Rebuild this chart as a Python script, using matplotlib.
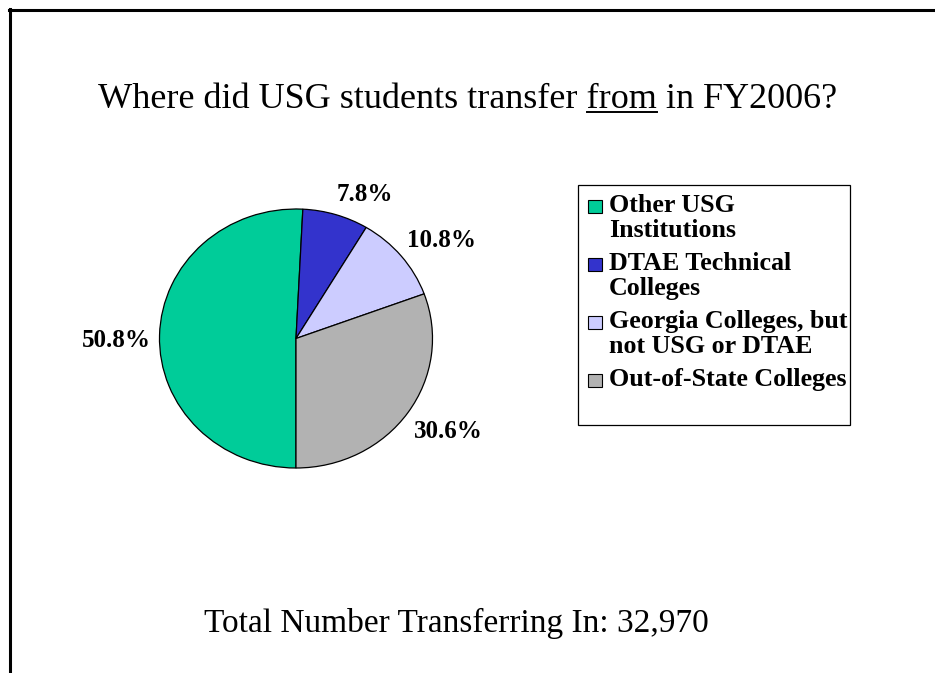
import matplotlib.pyplot as plt
from matplotlib.patches import Rectangle
from matplotlib.lines import Line2D
import numpy as np

# data
labels = ['Other USG\nInstitutions', 'DTAE Technical\nColleges',
          'Georgia Colleges, but\nnot USG or DTAE', 'Out-of-State Colleges']
shares = [50.8, 7.8, 10.8, 30.6]
colors = ['#00CC99', '#3333CC', '#CCCCFF', '#B2B2B2']
total_transfers = '32,970'

# label nudges in pixels (right, down) from the radial spot, like Excel's layout
label_nudge = [(-2.6, 6.6), (17.4, 17.1), (8.9, 9.4), (7.0, -3.3)]

W, H = 935, 673
plt.rcParams['font.family'] = ['Liberation Serif', 'DejaVu Serif']

fig = plt.figure(figsize=(W / 100, H / 100), dpi=100)

def fx(px):
    return px / W

def fy(py):
    # py measured from top of image
    return 1 - py / H

# slide border (top and left only)
fig.add_artist(Line2D([fx(9), 1], [fy(10), fy(10)], color='black', lw=2.2,
                      transform=fig.transFigure))
fig.add_artist(Line2D([fx(10), fx(10)], [fy(9), 0], color='black', lw=2.2,
                      transform=fig.transFigure))

# title with underlined "from"
pre = 'Where did USG students transfer '
word = 'from'
post = ' in FY2006?'
tsize = 26
title = fig.text(fx(468), fy(108), pre + word + post, fontsize=tsize,
                 ha='center', va='baseline')
fig.canvas.draw()
r = fig.canvas.get_renderer()

def text_width(s):
    t = fig.text(0, 0, s, fontsize=tsize)
    w = t.get_window_extent(r).width
    t.remove()
    return w

bb = title.get_window_extent(r)
x1 = bb.x0 + text_width(pre + word)
x0 = x1 - text_width(word)
fig.add_artist(Line2D([x0 / W, x1 / W], [fy(111.5), fy(111.5)],
                      color='black', lw=1.4, transform=fig.transFigure))

# pie (slightly elliptical like the original)
cx, cy, rx, ry = 296, 338.5, 136.5, 129.5
ax = fig.add_axes([fx(cx - rx), fy(cy + ry), 2 * rx / W, 2 * ry / H])
wedges, _, autotexts = ax.pie(shares, colors=colors, startangle=-90,
                              counterclock=False, autopct='%.1f%%',
                              pctdistance=1.3,
                              wedgeprops=dict(edgecolor='black', linewidth=0.9),
                              textprops=dict(fontsize=18, fontweight='bold'))
ax.set_aspect('auto')
ax.set_xlim(-1, 1)
ax.set_ylim(-1, 1)
ax.axis('off')

for t, (dx, dy) in zip(autotexts, label_nudge):
    x, y = t.get_position()
    t.set_position((x + dx / rx, y - dy / ry))

# legend drawn as a boxed list
fig.add_artist(Rectangle((fx(578), fy(425)), fx(850 - 578), (425 - 185) / H,
                         facecolor='white', edgecolor='black', lw=0.9,
                         transform=fig.transFigure))
y = 212
for lab, col in zip(labels, colors):
    fig.add_artist(Rectangle((fx(588), fy(y + 1)), fx(14), 13 / H,
                             facecolor=col, edgecolor='black', lw=0.8,
                             transform=fig.transFigure))
    for line in lab.split('\n'):
        fig.text(fx(609), fy(y), line, fontsize=18.7, fontweight='bold',
                 ha='left', va='baseline')
        y += 25
    y += 8

# footer
fig.text(fx(456.5), fy(632), 'Total Number Transferring In: ' + total_transfers,
         fontsize=24, ha='center', va='baseline')

fig.savefig('out.png', dpi=100)
